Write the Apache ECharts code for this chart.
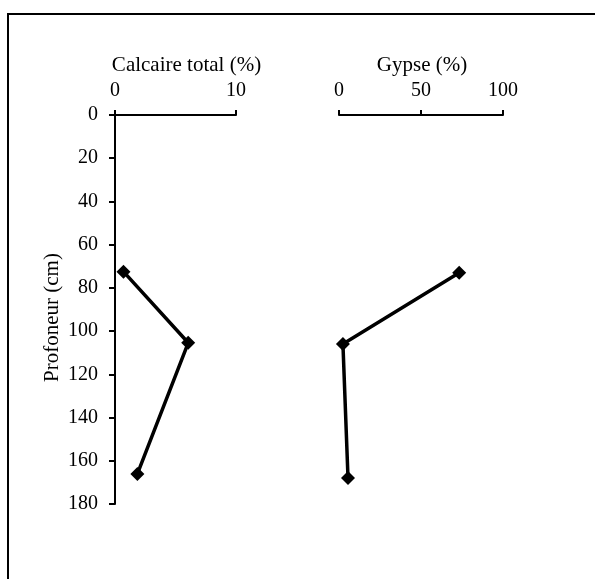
<!DOCTYPE html>
<html>
<head>
<meta charset="utf-8">
<script src="https://cdn.jsdelivr.net/npm/echarts@6/dist/echarts.min.js"></script>
<style>
  html, body { margin: 0; padding: 0; background: #fff; }
  #chart { width: 595px; height: 579px; }
</style>
</head>
<body>
<div id="chart"></div>
<script>
// Soil profile: depth (cm) vs. total limestone and gypsum content (%)
const depthTicks = [0, 20, 40, 60, 80, 100, 120, 140, 160, 180];

const calcaireDepth = [72.5, 105.4, 166.1];
const calcaireValue = [0.7, 6.05, 1.85];

const gypseDepth = [73, 106, 168];
const gypseValue = [73.3, 2.4, 5.5];

const FONT = '"Liberation Serif", "Times New Roman", serif';
const ink = '#000';

const chart = echarts.init(document.getElementById('chart'), null, { renderer: 'canvas' });

const topAxis = (name, max, interval, gridIndex, namePad) => ({
  type: 'value',
  gridIndex,
  position: 'top',
  min: 0,
  max,
  interval,
  name,
  nameLocation: 'middle',
  nameGap: 37,
  nameTextStyle: { fontFamily: FONT, fontSize: 21, color: ink, padding: namePad },
  axisLine: { show: true, lineStyle: { color: ink, width: 2 } },
  axisTick: { show: true, inside: false, length: 5, lineStyle: { color: ink, width: 2 } },
  axisLabel: { fontFamily: FONT, fontSize: 20, color: ink, margin: 14 },
  splitLine: { show: false }
});

const depthAxis = (gridIndex, visible) => ({
  type: 'value',
  gridIndex,
  inverse: true,
  min: depthTicks[0],
  max: depthTicks[depthTicks.length - 1],
  interval: depthTicks[1] - depthTicks[0],
  name: visible ? 'Profoneur (cm)' : '',
  nameLocation: 'middle',
  nameGap: 52,
  nameTextStyle: { fontFamily: FONT, fontSize: 21, color: ink, padding: [0, 16, 0, 0] },
  axisLine: { show: visible, onZero: false, lineStyle: { color: ink, width: 2 } },
  axisTick: { show: visible, length: 6, lineStyle: { color: ink, width: 2 } },
  axisLabel: { show: visible, fontFamily: FONT, fontSize: 20, color: ink, margin: 17 },
  splitLine: { show: false }
});

const lineSeries = (xIndex, xs, ys) => ({
  type: 'line',
  xAxisIndex: xIndex,
  yAxisIndex: xIndex,
  data: xs.map((v, i) => [v, ys[i]]),
  symbol: 'diamond',
  symbolSize: 14,
  lineStyle: { color: ink, width: 3.5 },
  itemStyle: { color: ink },
  animation: false
});

chart.setOption({
  backgroundColor: '#fff',
  animation: false,
  graphic: [{
    type: 'rect',
    shape: { x: 8, y: 14, width: 620, height: 620 },
    style: { fill: 'none', stroke: ink, lineWidth: 2 },
    silent: true
  }],
  grid: [
    { left: 115, top: 115, width: 121, height: 389 },
    { left: 339, top: 115, width: 164, height: 389 }
  ],
  xAxis: [
    topAxis('Calcaire total (%)', 10, 10, 0, [0, 0, 0, 22]),
    topAxis('Gypse (%)', 100, 50, 1, [0, 0, 0, 2])
  ],
  yAxis: [
    depthAxis(0, true),
    depthAxis(1, false)
  ],
  series: [
    lineSeries(0, calcaireValue, calcaireDepth),
    lineSeries(1, gypseValue, gypseDepth)
  ]
});
</script>
</body>
</html>
